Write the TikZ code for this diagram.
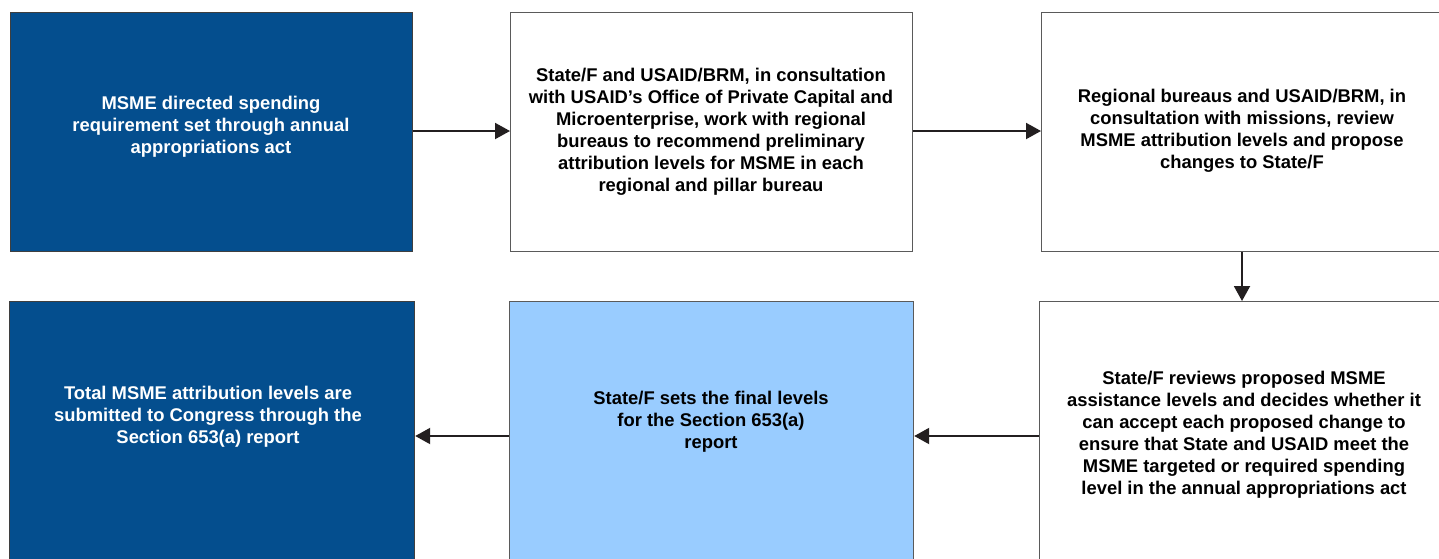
\documentclass[tikz,border=0pt]{standalone}
\usepackage{fontspec}
\setmainfont{Liberation Sans}
\usetikzlibrary{arrows.meta}
\definecolor{darkblue}{HTML}{044E8E}
\definecolor{lightblue}{HTML}{99CCFF}
\definecolor{edgegray}{HTML}{5A5A5A}
\definecolor{arrowblack}{HTML}{231F20}
\tikzset{
  box/.style={draw=edgegray, line width=1.2pt, rectangle, anchor=north west, inner sep=0pt},
  darkbox/.style={box, fill=darkblue, draw=edgegray!70!black},
  whitebox/.style={box, fill=white},
  lightbox/.style={box, fill=lightblue},
  txt/.style={align=center, font=\fontsize{18.4}{22}\selectfont\bfseries, inner sep=0pt},
  wtxt/.style={txt, text=white},
  btxt/.style={txt, text=black},
  conn/.style={draw=arrowblack, line width=2pt, -{Triangle[length=15pt, width=16pt]}},
}
\begin{document}
\begin{tikzpicture}[x=1pt, y=-1pt]
\useasboundingbox (0,0) rectangle (1439,558);
% boxes
\node[darkbox, minimum width=402, minimum height=239] (b1) at (10,12) {};
\node[whitebox, minimum width=402, minimum height=239] (b2) at (510,12) {};
\node[whitebox, minimum width=402, minimum height=239] (b3) at (1041,12) {};
\node[whitebox, minimum width=406, minimum height=266] (b4) at (1039,301) {};
\node[lightbox, minimum width=404, minimum height=266] (b5) at (509,301) {};
\node[darkbox, minimum width=405, minimum height=266] (b6) at (9,301) {};
% texts
\node[wtxt] (t1) at (211,127) {MSME directed spending\\requirement set through annual\\appropriations act};
\node[btxt] (t2) at (711,132) {State/F and USAID/BRM, in consultation\\with USAID’s Office of Private Capital and\\Microenterprise, work with regional\\bureaus to recommend preliminary\\attribution levels for MSME in each\\regional and pillar bureau};
\node[btxt] (t3) at (1242,131) {Regional bureaus and USAID/BRM, in\\consultation with missions, review\\MSME attribution levels and propose\\changes to State/F};
\node[btxt] (t4) at (1244,435) {State/F reviews proposed MSME\\assistance levels and decides whether it\\can accept each proposed change to\\ensure that State and USAID meet the\\MSME targeted or required spending\\level in the annual appropriations act};
\node[btxt] (t5) at (711,422) {State/F sets the final levels\\for the Section 653(a)\\report};
\node[wtxt] (t6) at (208,417) {Total MSME attribution levels are\\submitted to Congress through the\\Section 653(a) report};
% connectors
\draw[conn] (b1.east |- 0,131) -- (b2.west |- 0,131);
\draw[conn] (b2.east |- 0,131) -- (b3.west |- 0,131);
\draw[conn] (b3.south -| 1242,0) -- (b4.north -| 1242,0);
\draw[conn] (b4.west |- 0,436) -- (b5.east |- 0,436);
\draw[conn] (b5.west |- 0,436) -- (b6.east |- 0,436);
\end{tikzpicture}
\end{document}
